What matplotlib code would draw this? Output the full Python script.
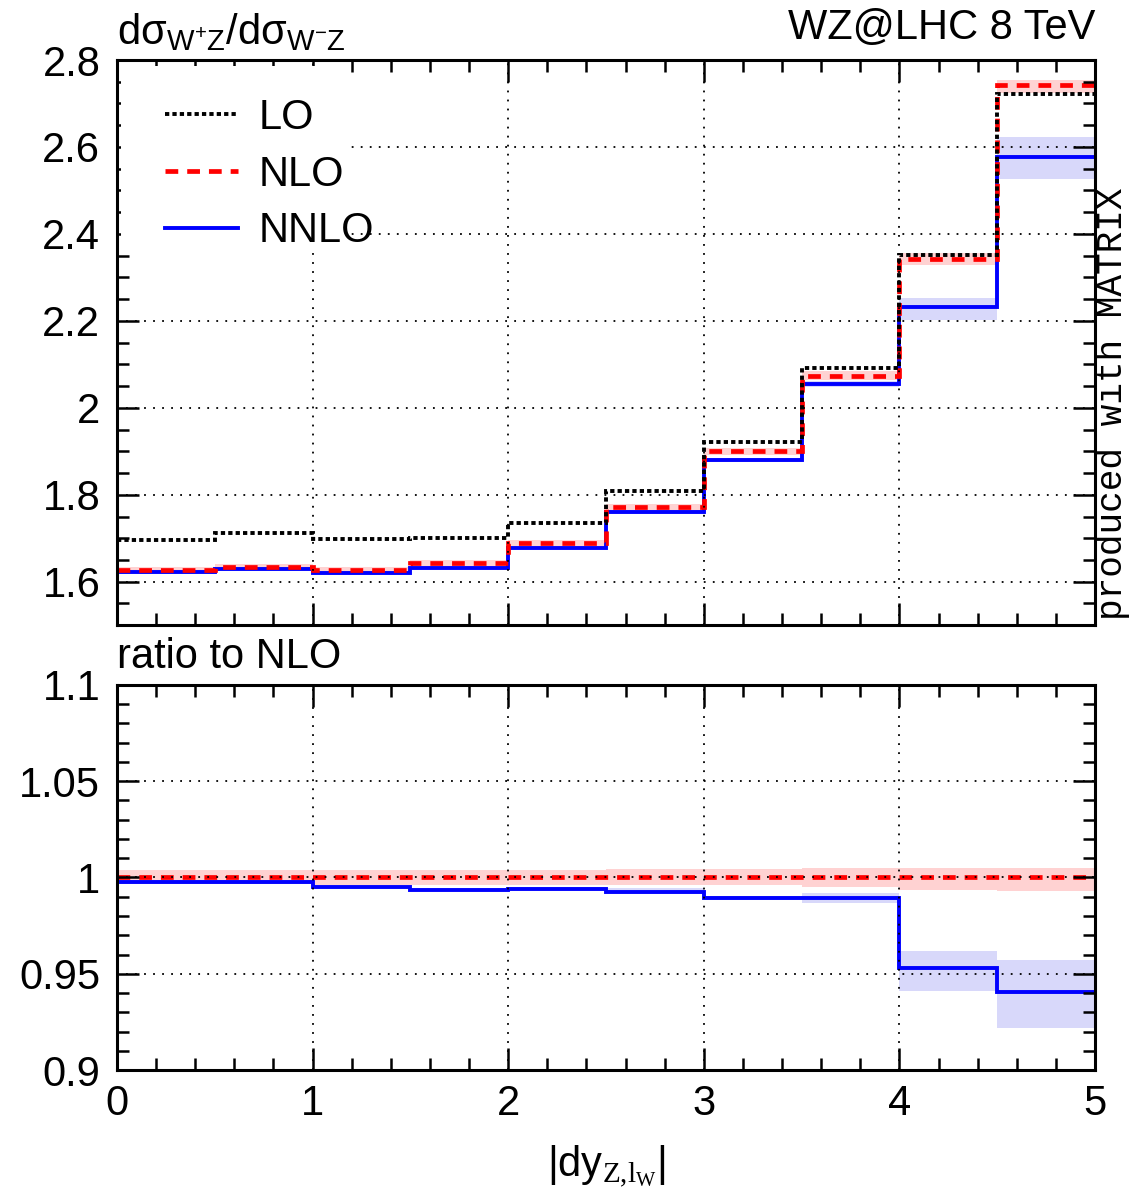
"""
WZ@LHC 8 TeV: ratio dsigma(W+Z)/dsigma(W-Z) vs |dy(Z,lW)|, LO/NLO/NNLO with ratio panel.
"""

import matplotlib
matplotlib.use("Agg")
import matplotlib.pyplot as plt
import numpy as np
from matplotlib.patches import Rectangle

plt.rcParams["font.family"] = ["Liberation Sans", "DejaVu Sans"]
plt.rcParams["mathtext.fontset"] = "custom"
plt.rcParams["mathtext.rm"] = "Liberation Serif"
plt.rcParams["mathtext.sf"] = "Liberation Sans"
plt.rcParams["mathtext.it"] = "Liberation Sans:italic"

# bin edges in |dy_{Z,lW}|
edges = [0.0, 0.5, 1.0, 1.5, 2.0, 2.5, 3.0, 3.5, 4.0, 4.5, 5.0]

# main panel: dsigma(W+Z)/dsigma(W-Z)
lo = [1.697, 1.713, 1.699, 1.700, 1.735, 1.808, 1.922, 2.092, 2.352, 2.721]
nlo = [1.628, 1.634, 1.628, 1.643, 1.689, 1.772, 1.900, 2.074, 2.343, 2.742]
nnlo = [1.622, 1.630, 1.621, 1.631, 1.677, 1.761, 1.880, 2.055, 2.231, 2.578]

nlo_up = [1.634, 1.640, 1.634, 1.649, 1.695, 1.779, 1.908, 2.084, 2.355, 2.754]
nlo_dn = [1.622, 1.628, 1.622, 1.637, 1.683, 1.765, 1.892, 2.064, 2.328, 2.724]
nnlo_up = [1.624, 1.632, 1.623, 1.633, 1.679, 1.765, 1.884, 2.061, 2.252, 2.622]
nnlo_dn = [1.620, 1.628, 1.619, 1.629, 1.675, 1.757, 1.876, 2.047, 2.202, 2.526]

# ratio panel (to NLO)
r_nlo = [1.0, 1.0, 1.0, 1.0, 1.0, 1.0, 1.0, 1.0, 1.0, 1.0]
r_nlo_up = [1.0040, 1.0040, 1.0040, 1.0040, 1.0040, 1.0042, 1.0042, 1.0047, 1.0047, 1.0050]
r_nlo_dn = [0.9965, 0.9965, 0.9962, 0.9962, 0.9962, 0.9960, 0.9960, 0.9950, 0.9935, 0.9932]
r_nnlo = [0.9979, 0.9979, 0.9950, 0.9936, 0.9941, 0.9927, 0.9894, 0.9894, 0.9530, 0.9406]
r_nnlo_up = [0.9985, 0.9985, 0.9958, 0.9944, 0.9950, 0.9945, 0.9905, 0.9917, 0.9620, 0.9570]
r_nnlo_dn = [0.9972, 0.9972, 0.9942, 0.9928, 0.9933, 0.9920, 0.9885, 0.9870, 0.9410, 0.9220]

FS = 30
GRID = dict(color="black", linestyle=(0, (1, 4)), linewidth=1.3)
LW_NNLO, LW_NLO, LW_LO = 2.8, 3.4, 2.8
LS_NLO = (0, (2.7, 1.9))
LS_LO = (0, (1.1, 0.8))


def style_axes(ax, ymajor, yminor):
    ax.set_xlim(0, 5)
    ax.set_xticks(np.arange(0, 5.01, 1))
    ax.set_xticks(np.arange(0, 5.01, 0.2), minor=True)
    ax.set_yticks(ymajor)
    ax.set_yticks(yminor, minor=True)
    ax.tick_params(which="both", direction="in", top=True, right=True,
                   labelsize=FS, width=1.8)
    ax.tick_params(which="major", length=16)
    ax.tick_params(which="minor", length=8.5)
    ax.tick_params(axis="y", pad=12)
    ax.tick_params(axis="x", pad=10)
    for s in ax.spines.values():
        s.set_linewidth(2.2)
    ax.set_axisbelow(False)
    ax.grid(True, which="major", **GRID)


fig = plt.figure(figsize=(11.4, 12), dpi=100)
ax1 = fig.add_axes([0.1026, 0.479, 0.858, 0.471])
ax2 = fig.add_axes([0.1026, 0.1083, 0.858, 0.3209])

# top panel
ax1.stairs(nlo_up, edges, baseline=nlo_dn, fill=True, color="#ffd2d2", zorder=1)
ax1.stairs(nnlo_up, edges, baseline=nnlo_dn, fill=True, color="#d8d8fa",
           edgecolor="#b4b4f0", zorder=1)
ax1.stairs(nnlo, edges, baseline=None, color="blue", linewidth=LW_NNLO, label="NNLO", zorder=2)
ax1.stairs(nlo, edges, baseline=None, color="red", linewidth=LW_NLO,
           linestyle=LS_NLO, label="NLO", zorder=2.1)
ax1.stairs(lo, edges, baseline=None, color="black", linewidth=LW_LO,
           linestyle=LS_LO, label="LO", zorder=2.2)
ax1.set_ylim(1.5, 2.8)
style_axes(ax1, np.arange(1.6, 2.81, 0.2), np.arange(1.5, 2.801, 0.05))
ax1.tick_params(labelbottom=False)
ax1.set_yticklabels(["1.6", "1.8", "2", "2.2", "2.4", "2.6", "2.8"])

# white legend area hiding the grid, narrower than the legend text
ax1.add_patch(Rectangle((0.004, 0.66), 0.234, 0.33, transform=ax1.transAxes,
                        facecolor="white", edgecolor="none", zorder=4))
handles, labels = ax1.get_legend_handles_labels()
order = [2, 1, 0]
leg = ax1.legend([handles[i] for i in order], [labels[i] for i in order],
                 loc="upper left", bbox_to_anchor=(0.036, 0.955), fontsize=FS,
                 handlelength=1.75, handletextpad=0.5, labelspacing=0.4,
                 frameon=False, borderpad=0.3, borderaxespad=0)
leg.set_zorder(5)

ax1.text(0.0, 1.012, r"dσ$_{\mathsf{W^{+}Z}}$/dσ$_{\mathsf{W^{-}Z}}$", transform=ax1.transAxes,
         fontsize=FS, ha="left", va="bottom")
ax1.text(1.0, 1.022, "WZ@LHC 8 TeV", transform=ax1.transAxes,
         fontsize=FS, ha="right", va="bottom")

# ratio panel
ax2.stairs(r_nlo_up, edges, baseline=r_nlo_dn, fill=True, color="#ffd2d2", zorder=1)
ax2.stairs(r_nnlo_up, edges, baseline=r_nnlo_dn, fill=True, color="#d8d8fa",
           edgecolor="#b4b4f0", zorder=1)
ax2.stairs(r_nnlo, edges, baseline=None, color="blue", linewidth=LW_NNLO, zorder=2)
ax2.stairs(r_nlo, edges, baseline=None, color="red", linewidth=LW_NLO,
           linestyle=LS_NLO, zorder=2.1)
ax2.set_ylim(0.9, 1.1)
style_axes(ax2, np.arange(0.9, 1.101, 0.05), np.arange(0.9, 1.1001, 0.01))
ax2.set_yticklabels(["0.9", "0.95", "1", "1.05", "1.1"])
ax2.text(0.0, 1.02, "ratio to NLO", transform=ax2.transAxes,
         fontsize=FS, ha="left", va="bottom")
ax2.set_xlabel(r"|dy$_{\mathrm{Z{,}l_{W}}}$|", fontsize=FS, labelpad=14)

fig.text(0.976, 0.483, "produced with MATRIX", rotation=90, ha="center", va="bottom",
         family="Liberation Mono", fontsize=26)

fig.savefig("out.png", dpi=100)
